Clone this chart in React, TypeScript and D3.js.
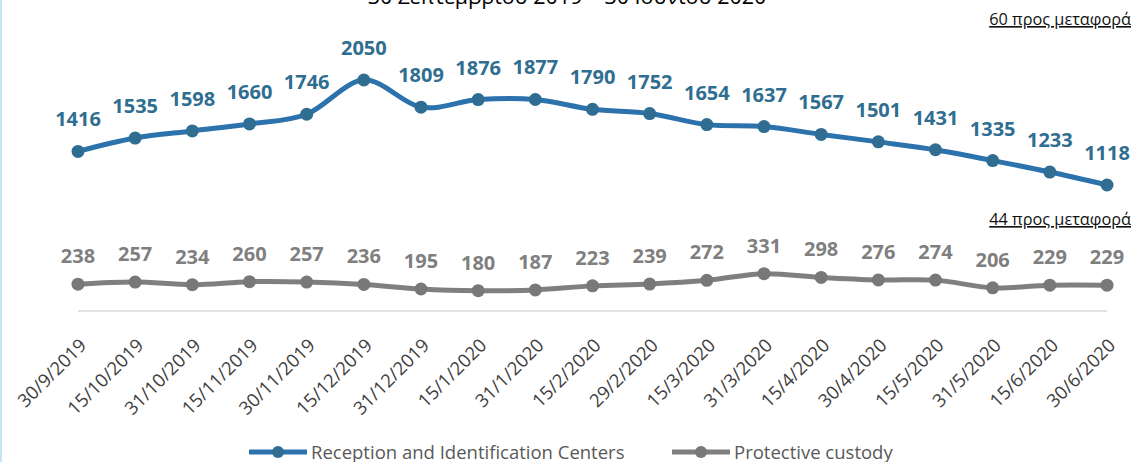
import React from "react";
import * as d3 from "d3";

const dates = [
  "30/9/2019", "15/10/2019", "31/10/2019", "15/11/2019", "30/11/2019",
  "15/12/2019", "31/12/2019", "15/1/2020", "31/1/2020", "15/2/2020",
  "29/2/2020", "15/3/2020", "31/3/2020", "15/4/2020", "30/4/2020",
  "15/5/2020", "31/5/2020", "15/6/2020", "30/6/2020",
];
const ricValues = [
  1416, 1535, 1598, 1660, 1746, 2050, 1809, 1876, 1877, 1790,
  1752, 1654, 1637, 1567, 1501, 1431, 1335, 1233, 1118,
];
const custodyValues = [
  238, 257, 234, 260, 257, 236, 195, 180, 187, 223,
  239, 272, 331, 298, 276, 274, 206, 229, 229,
];
const seriesNames = ["Reception and Identification Centers", "Protective custody"];
const title = "30 Σεπτεμβρίου 2019 – 30 Ιουνίου 2020";
const notes = ["60 προς μεταφορά", "44 προς μεταφορά"];

const width = 1132;
const height = 462;
const font = "'Open Sans', sans-serif";

export default function App() {
  const x = d3.scalePoint<string>().domain(dates).range([78, 1107]);
  const y = d3.scaleLinear().domain([0, 2050]).range([311, 80]);

  const line = d3
    .line<number>()
    .x((_, i) => x(dates[i])!)
    .y(d => y(d))
    .curve(d3.curveCatmullRom.alpha(0));

  const series = [
    { name: seriesNames[0], values: ricValues, line: "#2C72AD", mark: "#2F6E92", label: "#2F6E90", off: 25 },
    { name: seriesNames[1], values: custodyValues, line: "#7F7F7F", mark: "#787878", label: "#7F7F7F", off: 21 },
  ];

  return (
    <svg
      width={width}
      height={height}
      style={{ position: "absolute", left: 0, top: 0, background: "#fff" }}
      fontFamily={font}
    >
      <rect x={0} y={0} width={2} height={height} fill="#C3E6F6" />
      <text x={567} y={4} textAnchor="middle" fontSize={21.5} fill="#000">
        {title}
      </text>

      <text x={1131} y={25} textAnchor="end" fontSize={16.3} fill="#111" textDecoration="underline">
        {notes[0]}
      </text>
      <text x={1131} y={225} textAnchor="end" fontSize={16.3} fill="#111" textDecoration="underline">
        {notes[1]}
      </text>

      <line x1={x(dates[0])} x2={x(dates[dates.length - 1])} y1={y(0)} y2={y(0)} stroke="#D9D9D9" strokeWidth={1.5} />

      {dates.map(d => (
        <text
          key={d}
          transform={`translate(${x(d)! + 5},${342}) rotate(-45)`}
          textAnchor="end"
          dy="0.35em"
          fontSize={18.5}
          fill="#404040"
        >
          {d}
        </text>
      ))}

      {series.map(s => (
        <g key={s.name}>
          <path d={line(s.values)!} fill="none" stroke={s.line} strokeWidth={5} />
          {s.values.map((v, i) => (
            <circle key={i} cx={x(dates[i])} cy={y(v)} r={6.5} fill={s.mark} />
          ))}
          {s.values.map((v, i) => (
            <text
              key={"t" + i}
              x={x(dates[i])}
              y={y(v) - s.off}
              textAnchor="middle"
              fontSize={20}
              fontWeight={700}
              fill={s.label}
            >
              {v}
            </text>
          ))}
        </g>
      ))}

      {/* legend */}
      <g transform="translate(249,452)">
        <line x1={0} x2={58} stroke={series[0].line} strokeWidth={5} />
        <circle cx={29} r={6} fill={series[0].mark} />
        <text x={62} y={7} fontSize={18.5} fill="#595959">{seriesNames[0]}</text>
      </g>
      <g transform="translate(672,452)">
        <line x1={0} x2={58} stroke={series[1].line} strokeWidth={5} />
        <circle cx={29} r={6} fill={series[1].mark} />
        <text x={62} y={7} fontSize={18.5} fill="#595959">{seriesNames[1]}</text>
      </g>
    </svg>
  );
}
